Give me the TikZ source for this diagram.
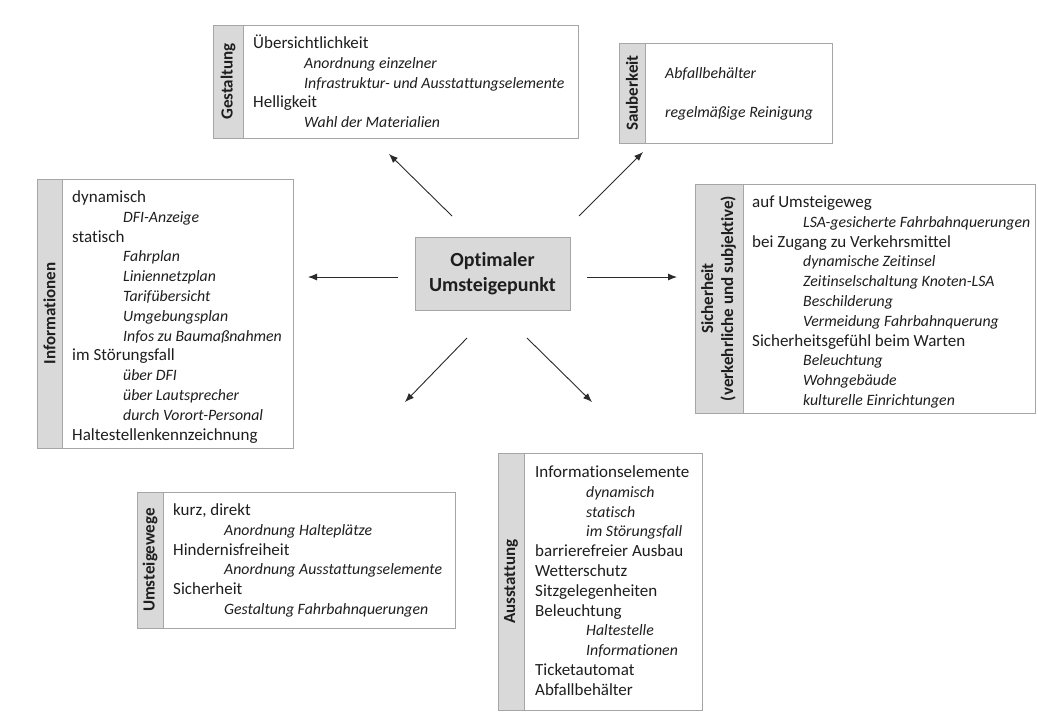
\documentclass[tikz,border=0pt]{standalone}
\usepackage{fontspec}
\setmainfont[Ligatures=NoCommon]{Carlito}
\usepackage{graphicx}
\usetikzlibrary{arrows.meta}
\definecolor{bordergray}{HTML}{A6A6A6}
\definecolor{tabgray}{HTML}{D9D9D9}
\definecolor{textcol}{HTML}{1E1E1E}
\definecolor{arrowcol}{HTML}{2A2A2A}
\newcommand{\ind}[1]{\hspace*{51pt}{\fontsize{15.8}{19.8}\selectfont\textit{#1}}}
\begin{document}
\begin{tikzpicture}[x=1pt,y=-1pt,
  panel/.style={draw=bordergray, line width=0.9pt, fill=white, anchor=north west, inner sep=0pt, outer sep=0pt},
  tabbox/.style={draw=bordergray, line width=0.9pt, fill=tabgray, anchor=north west, inner sep=0pt, outer sep=0pt, text=textcol, font=\fontsize{17}{20}\selectfont\bfseries},
  lines/.style={anchor=base west, inner sep=0pt, text=textcol, font=\fontsize{17}{19.8}\selectfont},
  arr/.style={-{Latex[length=9pt,width=7pt]}, line width=0.9pt, draw=arrowcol}]
\useasboundingbox (0,0) rectangle (1038,713);
\fill[white] (0,0) rectangle (1038,713);

% Center
\node[draw=bordergray, line width=0.9pt, fill=tabgray, minimum width=155pt, minimum height=73pt, inner sep=0pt, align=center, text=textcol, font=\fontsize{20}{25}\selectfont\bfseries] (center) at (492.5,273.5) {Optimaler\\Umsteigepunkt};

% Gestaltung
\node[panel, minimum width=365pt, minimum height=113pt] (gest) at (213,25) {};
\node[tabbox, minimum width=30pt, minimum height=113pt] (gestT) at (213,25) {\rotatebox{90}{Gestaltung}};
\node[lines] (gestL) at (253,48.5) {\begin{tabular}[t]{@{}l@{}}
Übersichtlichkeit\\
\ind{Anordnung einzelner}\\
\ind{Infrastruktur- und Ausstattungselemente}\\
Helligkeit\\
\ind{Wahl der Materialien}
\end{tabular}};

% Sauberkeit
\node[panel, minimum width=213pt, minimum height=100pt] (saub) at (619,43) {};
\node[tabbox, minimum width=26pt, minimum height=100pt] (saubT) at (619,43) {\rotatebox{90}{Sauberkeit}};
\node[lines] (saubL1) at (665,78.5) {{\fontsize{15.8}{19.8}\selectfont\textit{Abfallbehälter}}};
\node[lines] (saubL2) at (665,117.5) {{\fontsize{15.8}{19.8}\selectfont\textit{regelmäßige Reinigung}}};

% Informationen
\node[panel, minimum width=256pt, minimum height=269pt] (info) at (37,179) {};
\node[tabbox, minimum width=25pt, minimum height=269pt] (infoT) at (37,179) {\rotatebox{90}{Informationen}};
\node[lines] (infoL) at (72,202.5) {\begin{tabular}[t]{@{}l@{}}
dynamisch\\
\ind{DFI-Anzeige}\\
statisch\\
\ind{Fahrplan}\\
\ind{Liniennetzplan}\\
\ind{Tarifübersicht}\\
\ind{Umgebungsplan}\\
\ind{Infos zu Baumaßnahmen}\\
im Störungsfall\\
\ind{über DFI}\\
\ind{über Lautsprecher}\\
\ind{durch Vorort-Personal}\\
Haltestellenkennzeichnung
\end{tabular}};

% Sicherheit
\node[panel, minimum width=340pt, minimum height=229pt] (sich) at (695,184) {};
\node[tabbox, minimum width=48pt, minimum height=229pt] (sichT) at (695,184) {\rotatebox{90}{\begin{tabular}{@{}c@{}}Sicherheit\\(verkehrliche und subjektive)\end{tabular}}};
\node[lines] (sichL) at (752,207.5) {\begin{tabular}[t]{@{}l@{}}
auf Umsteigeweg\\
\ind{LSA-gesicherte Fahrbahnquerungen}\\
bei Zugang zu Verkehrsmittel\\
\ind{dynamische Zeitinsel}\\
\ind{Zeitinselschaltung Knoten-LSA}\\
\ind{Beschilderung}\\
\ind{Vermeidung Fahrbahnquerung}\\
Sicherheitsgefühl beim Warten\\
\ind{Beleuchtung}\\
\ind{Wohngebäude}\\
\ind{kulturelle Einrichtungen}
\end{tabular}};

% Umsteigewege
\node[panel, minimum width=318pt, minimum height=136pt] (umst) at (137,492) {};
\node[tabbox, minimum width=26pt, minimum height=136pt] (umstT) at (137,492) {\rotatebox{90}{Umsteigewege}};
\node[lines] (umstL) at (173,515.5) {\begin{tabular}[t]{@{}l@{}}
kurz, direkt\\
\ind{Anordnung Halteplätze}\\
Hindernisfreiheit\\
\ind{Anordnung Ausstattungselemente}\\
Sicherheit\\
\ind{Gestaltung Fahrbahnquerungen}
\end{tabular}};

% Ausstattung
\node[panel, minimum width=204pt, minimum height=257pt] (ausst) at (498,453) {};
\node[tabbox, minimum width=26pt, minimum height=257pt] (ausstT) at (498,453) {\rotatebox{90}{Ausstattung}};
\node[lines] (ausstL) at (535,477.5) {\begin{tabular}[t]{@{}l@{}}
Informationselemente\\
\ind{dynamisch}\\
\ind{statisch}\\
\ind{im Störungsfall}\\
barrierefreier Ausbau\\
Wetterschutz\\
Sitzgelegenheiten\\
Beleuchtung\\
\ind{Haltestelle}\\
\ind{Informationen}\\
Ticketautomat\\
Abfallbehälter
\end{tabular}};

% Arrows
\coordinate (s1) at (452,216); \coordinate (e1) at (389,154);
\coordinate (s2) at (579,216); \coordinate (e2) at (643,152);
\coordinate (s3) at (398,277); \coordinate (e3) at (308,277);
\coordinate (s4) at (587,277); \coordinate (e4) at (677,277);
\coordinate (s5) at (467,338); \coordinate (e5) at (405,402);
\coordinate (s6) at (527,338); \coordinate (e6) at (592,402);
\foreach \i in {1,...,6} { \draw[arr] (s\i) -- (e\i); }
\end{tikzpicture}
\end{document}
